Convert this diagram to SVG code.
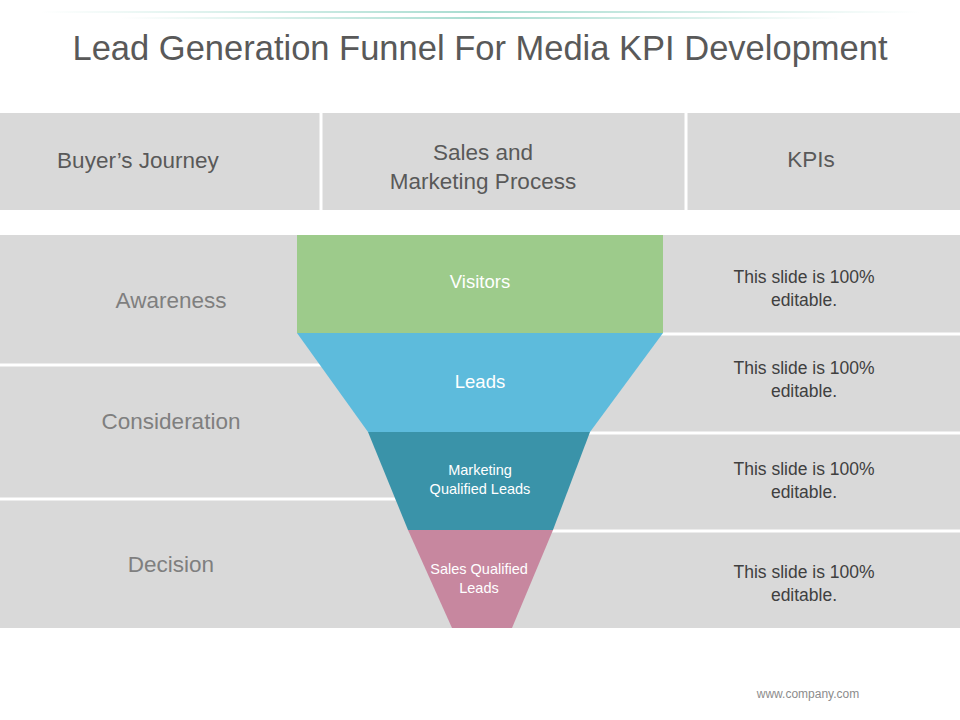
<svg xmlns="http://www.w3.org/2000/svg" width="960" height="720" viewBox="0 0 960 720">
<defs>
<linearGradient id="g1" x1="0" x2="1" y1="0" y2="0">
<stop offset="0" stop-color="#a8dcd0" stop-opacity="0"/>
<stop offset="0.5" stop-color="#a8dcd0" stop-opacity="1"/>
<stop offset="1" stop-color="#a8dcd0" stop-opacity="0"/>
</linearGradient>
</defs>
<style>
text{font-family:"Liberation Sans",Arial,sans-serif}
.hd{font-size:22.5px;fill:#595959;text-anchor:middle}
.st{font-size:22.5px;fill:#7f7f7f;text-anchor:middle}
.kp{font-size:17.5px;fill:#404040;text-anchor:middle}
.fw{fill:#fff;text-anchor:middle}
.sep{stroke:#fff;stroke-width:3}
</style>
<rect width="960" height="720" fill="#fff"/>
<rect x="40" y="11" width="880" height="2" fill="url(#g1)"/>
<rect x="120" y="17" width="720" height="2" fill="url(#g1)"/>
<text x="480" y="60" font-size="34.5" fill="#595959" text-anchor="middle">Lead Generation Funnel For Media KPI Development</text>
<g id="header">
<rect x="0" y="113" width="960" height="97" fill="#d9d9d9"/>
<line class="sep" x1="321" y1="113" x2="321" y2="210"/>
<line class="sep" x1="686" y1="113" x2="686" y2="210"/>
<text class="hd" x="138" y="168">Buyer’s Journey</text>
<text class="hd" x="483" y="160">Sales and</text>
<text class="hd" x="483" y="189">Marketing Process</text>
<text class="hd" x="811" y="167">KPIs</text>
</g>
<g id="rows">
<rect x="0" y="235" width="960" height="393" fill="#d9d9d9"/>
<line class="sep" x1="0" y1="365" x2="340" y2="365"/>
<line class="sep" x1="0" y1="499" x2="400" y2="499"/>
<line class="sep" x1="600" y1="334" x2="960" y2="334"/>
<line class="sep" x1="560" y1="433" x2="960" y2="433"/>
<line class="sep" x1="520" y1="531" x2="960" y2="531"/>
<text class="st" x="171" y="308">Awareness</text>
<text class="st" x="171" y="429">Consideration</text>
<text class="st" x="171" y="572">Decision</text>
</g>
<g id="funnel">
<rect id="visitors" x="297" y="235" width="366" height="98" fill="#9dcb8b"/>
<polygon id="leads" points="297,333 663,333 590,432 368,432" fill="#5dbbdc"/>
<polygon id="mql" points="368,432 590,432 553,530 408,530" fill="#3a93a9"/>
<polygon id="sql" points="408,530 553,530 512,628 452,628" fill="#c7879f"/>
<text class="fw" x="480" y="288" font-size="18.5">Visitors</text>
<text class="fw" x="480" y="388" font-size="18.5">Leads</text>
<text class="fw" x="480" y="475" font-size="14.5">Marketing</text>
<text class="fw" x="480" y="494" font-size="14.5">Qualified Leads</text>
<text class="fw" x="479" y="574" font-size="14.5">Sales Qualified</text>
<text class="fw" x="479" y="593" font-size="14.5">Leads</text>
</g>
<g id="kpis">
<text class="kp" x="804" y="283">This slide is 100%</text>
<text class="kp" x="804" y="306">editable.</text>
<text class="kp" x="804" y="374">This slide is 100%</text>
<text class="kp" x="804" y="397">editable.</text>
<text class="kp" x="804" y="475">This slide is 100%</text>
<text class="kp" x="804" y="498">editable.</text>
<text class="kp" x="804" y="578">This slide is 100%</text>
<text class="kp" x="804" y="601">editable.</text>
</g>
<text x="808" y="698" font-size="12" fill="#8c8c8c" text-anchor="middle">www.company.com</text>
</svg>
